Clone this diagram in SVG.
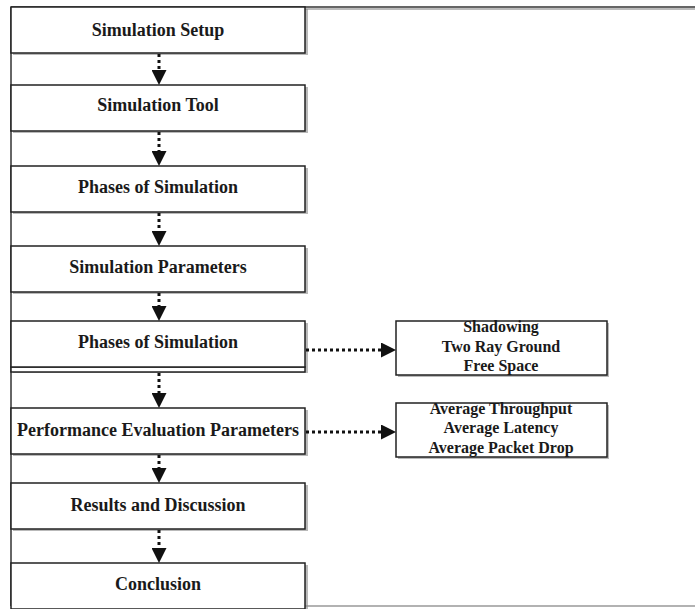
<svg xmlns="http://www.w3.org/2000/svg" width="695" height="609" viewBox="0 0 695 609">
<style>
.box{fill:#fff;stroke:#222;stroke-width:1.5}
.sh{fill:#8a8a8a;opacity:0.6}
.t{font-family:"Liberation Serif",serif;font-weight:bold;font-size:18px;fill:#1a1a1a;text-anchor:middle}
.s{font-family:"Liberation Serif",serif;font-weight:bold;font-size:16px;fill:#1a1a1a;text-anchor:middle}
.c{stroke:#111;stroke-width:3;stroke-dasharray:3 3;fill:none}
</style>
<defs>
<marker id="ah" markerWidth="5" markerHeight="5" refX="0" refY="2.5" orient="auto" markerUnits="strokeWidth">
<path d="M0,0 L5,2.5 L0,5 Z" fill="#111"/>
</marker>
</defs>
<rect width="695" height="609" fill="#fff"/>
<g id="frame">
<line x1="11" y1="7" x2="695" y2="7" stroke="#333" stroke-width="1.5"/>
<line x1="305" y1="9" x2="695" y2="9" stroke="#bbb" stroke-width="2"/>
<line x1="11" y1="7" x2="11" y2="606" stroke="#333" stroke-width="1.5"/>
<line x1="11" y1="606" x2="695" y2="606" stroke="#999" stroke-width="1.5"/>
</g>
<g id="n1"><rect class="sh" x="13" y="9" width="295" height="46"/><rect class="box" x="11" y="7" width="294" height="46"/><text class="t" x="158" y="36">Simulation Setup</text></g>
<g id="n2"><rect class="sh" x="13" y="87" width="295" height="46"/><rect class="box" x="11" y="85" width="294" height="46"/><text class="t" x="158" y="111">Simulation Tool</text></g>
<g id="n3"><rect class="sh" x="13" y="168" width="295" height="46"/><rect class="box" x="11" y="166" width="294" height="46"/><text class="t" x="158" y="193">Phases of Simulation</text></g>
<g id="n4"><rect class="sh" x="13" y="248" width="295" height="46"/><rect class="box" x="11" y="246" width="294" height="46"/><text class="t" x="158" y="273">Simulation Parameters</text></g>
<g id="n5"><rect class="sh" x="13" y="323" width="295" height="50"/><rect class="box" x="11" y="367" width="294" height="5"/><rect class="box" x="11" y="321" width="294" height="46"/><text class="t" x="158" y="348">Phases of Simulation</text></g>
<g id="n6"><rect class="sh" x="13" y="410" width="295" height="46"/><rect class="box" x="11" y="408" width="294" height="46"/><text class="t" x="158" y="436">Performance Evaluation Parameters</text></g>
<g id="n7"><rect class="sh" x="13" y="485" width="295" height="46"/><rect class="box" x="11" y="483" width="294" height="46"/><text class="t" x="158" y="511">Results and Discussion</text></g>
<g id="n8"><rect class="sh" x="13" y="565" width="295" height="46"/><rect class="box" x="11" y="563" width="294" height="46"/><text class="t" x="158" y="590">Conclusion</text></g>
<g id="nA"><rect class="sh" x="398" y="323" width="211" height="54"/><rect class="box" x="396" y="321" width="211" height="54"/><text class="s" x="501" y="332">Shadowing</text><text class="s" x="501" y="352">Two Ray Ground</text><text class="s" x="501" y="371">Free Space</text></g>
<g id="nB"><rect class="sh" x="398" y="405" width="211" height="54"/><rect class="box" x="396" y="403" width="211" height="54"/><text class="s" x="501" y="414">Average Throughput</text><text class="s" x="501" y="433">Average Latency</text><text class="s" x="501" y="453">Average Packet Drop</text></g>
<g id="connectors">
<line class="c" x1="159" y1="54" x2="159" y2="70" marker-end="url(#ah)"/>
<line class="c" x1="159" y1="132" x2="159" y2="151" marker-end="url(#ah)"/>
<line class="c" x1="159" y1="213" x2="159" y2="231" marker-end="url(#ah)"/>
<line class="c" x1="159" y1="293" x2="159" y2="306" marker-end="url(#ah)"/>
<line class="c" x1="159" y1="373" x2="159" y2="393" marker-end="url(#ah)"/>
<line class="c" x1="159" y1="455" x2="159" y2="468" marker-end="url(#ah)"/>
<line class="c" x1="159" y1="530" x2="159" y2="548" marker-end="url(#ah)"/>
<line class="c" x1="306" y1="350" x2="381" y2="350" marker-end="url(#ah)"/>
<line class="c" x1="306" y1="432" x2="381" y2="432" marker-end="url(#ah)"/>
</g>
</svg>
